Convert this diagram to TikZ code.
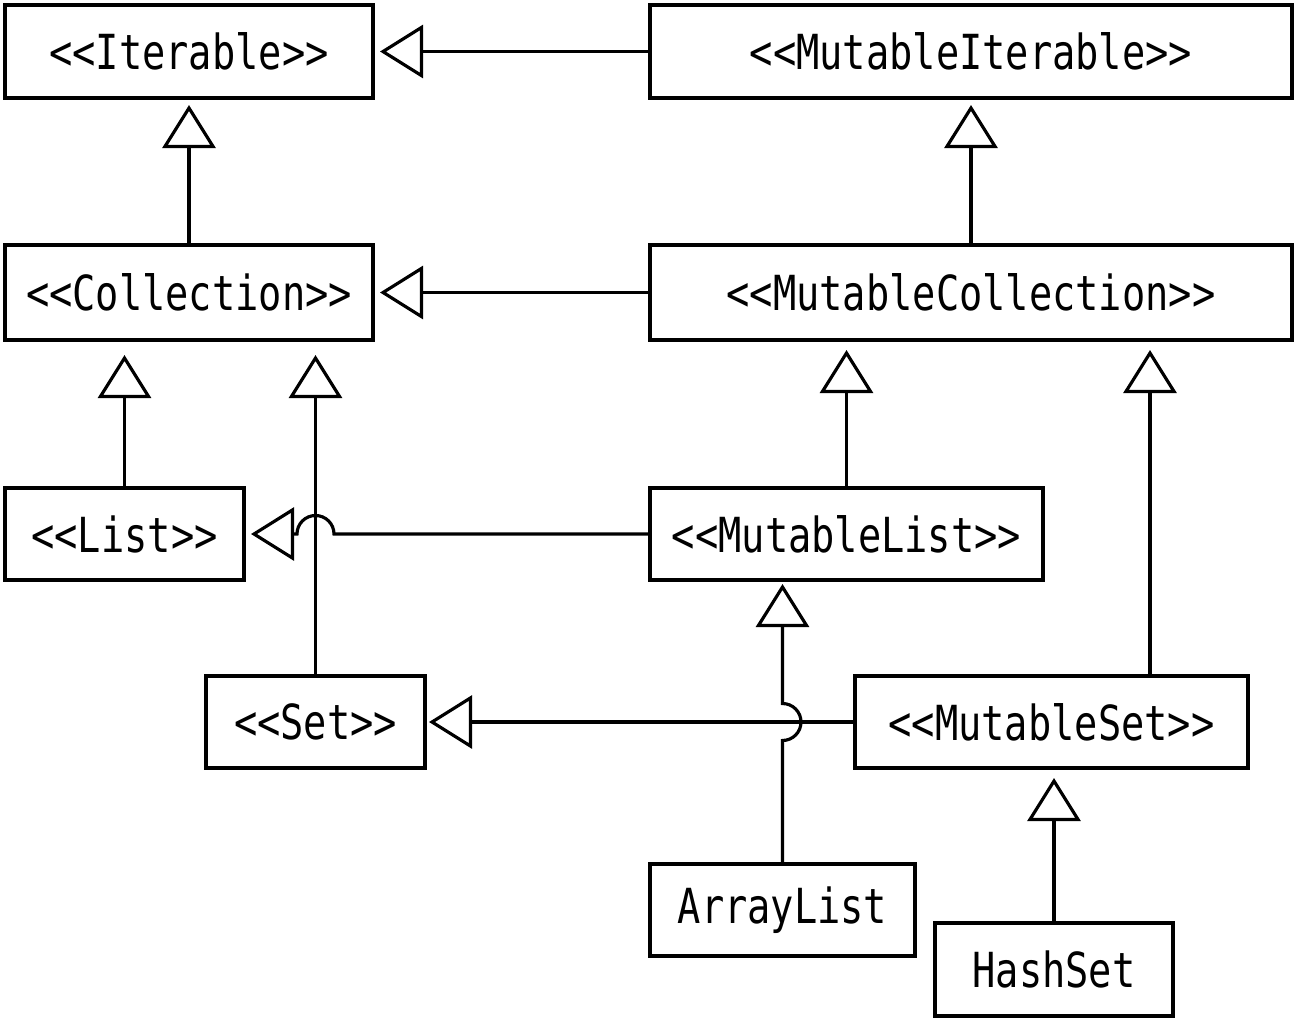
\documentclass[tikz,border=0pt]{standalone}
\usepackage{fontspec}
\newfontfamily\umlfont[FakeStretch=0.8]{DejaVu Sans Mono}
\usepackage{tikz}
\usetikzlibrary{arrows.meta,positioning,calc}
\tikzset{
  every picture/.append style={line width=1.8pt},
  every node/.append style={font=\umlfont\fontsize{27.5}{30}\selectfont},
}
\tikzset{
  cls/.style={draw, line width=2.3pt, inner sep=0pt, align=center, minimum height=1.86cm},
  inherit/.style={-{Triangle[open, length=0.86cm, width=1.06cm]}, shorten >=0.1cm}
}
\begin{document}
\begin{tikzpicture}[
  jump/.style={radius=0.37cm}
]
\useasboundingbox (0,0) rectangle (25.98,-20.46);

\node[cls, minimum width=7.36cm]  (iter)  at (3.78, -1.03)  {<<Iterable>>};
\node[cls, minimum width=12.84cm] (miter) at (19.42, -1.03) {<<MutableIterable>>};
\node[cls, minimum width=7.36cm, minimum height=1.9cm]  (coll)  at (3.78, -5.85)  {<<Collection>>};
\node[cls, minimum width=12.84cm, minimum height=1.9cm] (mcoll) at (19.42, -5.85) {<<MutableCollection>>};
\node[cls, minimum width=4.78cm, minimum height=1.84cm] (list)  at (2.49, -10.68)  {<<List>>};
\node[cls, minimum width=7.86cm, minimum height=1.84cm] (mlist) at (16.93, -10.68) {<<MutableList>>};
\node[cls, minimum width=4.38cm, minimum height=1.84cm] (set)   at (6.31, -14.44)  {<<Set>>};
\node[cls, minimum width=7.86cm, minimum height=1.84cm] (mset)  at (21.03, -14.44) {<<MutableSet>>};
\node[cls, minimum width=5.3cm, minimum height=1.84cm]  (alist) at (15.65, -18.2)  {ArrayList};
\node[cls, minimum width=4.76cm] (hset) at (21.08, -19.39) {HashSet};

\draw[inherit] (miter.west) -- (iter.east);
\draw[inherit] (mcoll.west) -- (coll.east);
\draw[inherit] (coll.north) -- (iter.south);
\draw[inherit] (mcoll.north) -- (miter.south);
\draw[inherit, shorten >=0.26cm] (list.north) -- (list.north |- coll.south);
\draw[inherit, shorten >=0.26cm] (set.north) -- (set.north |- coll.south);
\draw[inherit, shorten >=0.16cm] (mlist.north) -- (mlist.north |- mcoll.south);
\draw[inherit, shorten >=0.16cm] ([xshift=1.97cm]mset.north) -- ([xshift=1.97cm]mset.north |- mcoll.south);
\draw[inherit] (mlist.west) -- ([xshift=0.37cm]set.north |- mlist.west)
  arc[start angle=0, end angle=180, jump] -- (list.east);
\draw[inherit, shorten >=0.04cm] (mset.west) -- (set.east);
\draw[inherit, shorten >=0.04cm] (alist.north) -- ([yshift=-0.37cm]alist.north |- mset.west)
  arc[start angle=-90, end angle=90, jump] -- (alist.north |- mlist.south);
\draw[inherit, shorten >=0.16cm] (hset.north) -- (hset.north |- mset.south);

\end{tikzpicture}
\end{document}
